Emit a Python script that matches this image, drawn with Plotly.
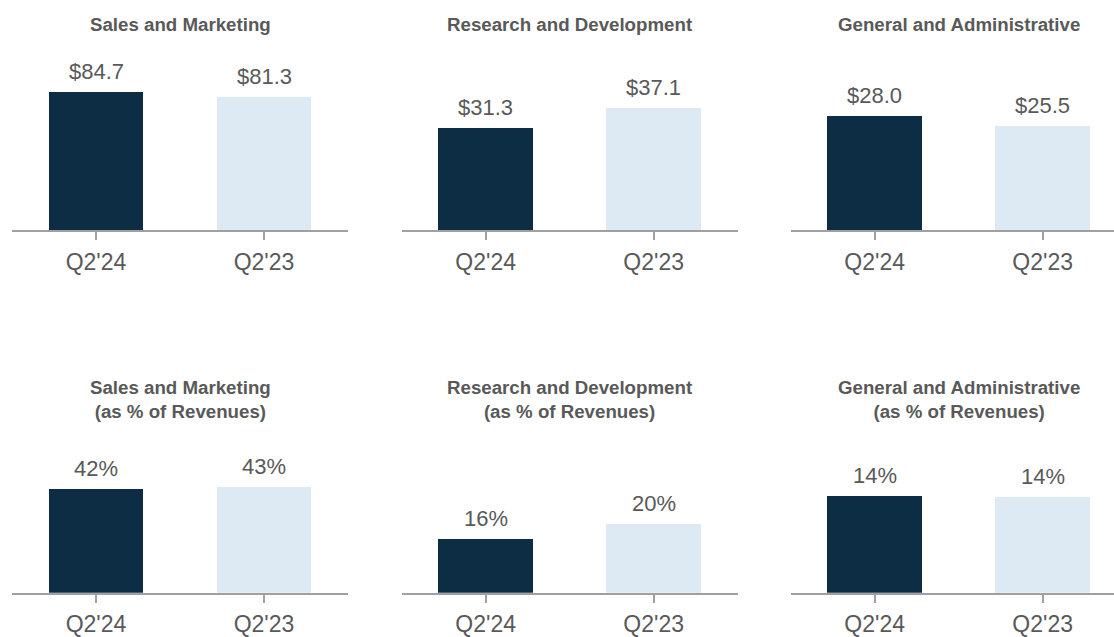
import plotly.graph_objects as go

W, H = 1114, 637

categories = ["Q2'24", "Q2'23"]
panel_titles = [
    "Sales and Marketing",
    "Research and Development",
    "General and Administrative",
    "Sales and Marketing<br>(as % of Revenues)",
    "Research and Development<br>(as % of Revenues)",
    "General and Administrative<br>(as % of Revenues)",
]
sm_usd = [84.7, 81.3]
rd_usd = [31.3, 37.1]
ga_usd = [28.0, 25.5]
sm_pct = [42.2, 42.8]
rd_pct = [15.6, 20.0]
ga_pct = [13.9, 13.7]
sm_pct_lbl = ["42%", "43%"]
rd_pct_lbl = ["16%", "20%"]
ga_pct_lbl = ["14%", "14%"]

series = [sm_usd, rd_usd, ga_usd, sm_pct, rd_pct, ga_pct]
labels = [[f"${v:.1f}" for v in sm_usd], [f"${v:.1f}" for v in rd_usd],
          [f"${v:.1f}" for v in ga_usd], sm_pct_lbl, rd_pct_lbl, ga_pct_lbl]
yranges = [113.6, 56.6, 45.4, 63.6, 45.7, 22.45]

bar_colors = ["#0D2D44", "#DDE9F3"]
text_color = "#595959"
axis_color = "#A0A0A0"
FONT = "Arial, Liberation Sans, sans-serif"

# pixel geometry in page coordinates
col_x = [(12, 348), (401.7, 737.7), (790.7, 1126.7)]
row_y = [(45, 232.3), (440, 598.3)]  # (top, baseline)
title_y = [25, 403.4]

fig = go.Figure()
for i in range(6):
    r, c = divmod(i, 3)
    n = i + 1
    xa = "x" if n == 1 else f"x{n}"
    ya = "y" if n == 1 else f"y{n}"
    fig.add_trace(go.Bar(
        x=categories, y=series[i], xaxis=xa, yaxis=ya,
        marker=dict(color=bar_colors, line=dict(width=0)),
        width=0.565, showlegend=False, hoverinfo="skip",
    ))
    x0, x1 = col_x[c]
    vis_x1 = min(x1, W)
    full_w = x1 - x0
    rng_hi = -0.5 + 2.0 * (vis_x1 - x0) / full_w
    top, base = row_y[r]
    xkey = "xaxis" if n == 1 else f"xaxis{n}"
    ykey = "yaxis" if n == 1 else f"yaxis{n}"
    fig.update_layout(**{
        xkey: dict(domain=[x0 / W, vis_x1 / W], anchor=ya, range=[-0.5, rng_hi],
                   showline=True, linecolor=axis_color, linewidth=2,
                   ticks="outside", ticklen=8, tickcolor=axis_color, tickwidth=2,
                   ticklabelstandoff=2,
                   tickfont=dict(size=23, color=text_color, family=FONT),
                   showgrid=False, zeroline=False, fixedrange=True),
        ykey: dict(domain=[1 - base / H, 1 - top / H], anchor=xa, range=[0, yranges[i]],
                   visible=False, showgrid=False, zeroline=False, fixedrange=True),
    })
    for j, cat in enumerate(categories):
        fig.add_annotation(x=cat, y=series[i][j], xref=xa, yref=ya,
                           text=labels[i][j], showarrow=False, yanchor="bottom",
                           yshift=6, font=dict(size=22, color=text_color, family=FONT))
    fig.add_annotation(x=(x0 + x1) / 2 / W, y=1 - title_y[r] / H,
                       xref="paper", yref="paper",
                       text=f"<b>{panel_titles[i]}</b>", showarrow=False,
                       xanchor="center", yanchor="middle",
                       font=dict(size=18.7, color=text_color, family=FONT))

fig.update_layout(width=W, height=H, margin=dict(l=0, r=0, t=0, b=0),
                  plot_bgcolor="white", paper_bgcolor="white", bargap=0,
                  hovermode=False)
fig.write_html("out.html", config={"displayModeBar": False, "staticPlot": True},
               post_script="document.body.style.margin='0';document.body.style.overflow='hidden';")
